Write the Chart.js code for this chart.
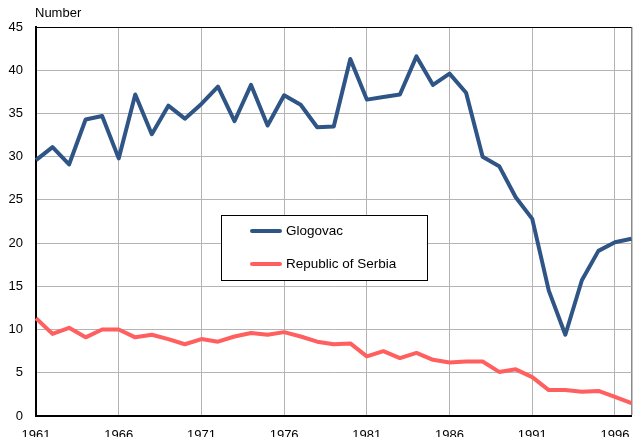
<!DOCTYPE html>
<html>
<head>
<meta charset="utf-8">
<script src="https://cdn.jsdelivr.net/npm/chart.js@4/dist/chart.umd.min.js"></script>
<style>
html,body{margin:0;padding:0;background:#fff;}
#wrap{width:643px;height:437px;position:relative;}
</style>
</head>
<body>
<div id="wrap"><canvas id="c" width="643" height="437"></canvas></div>
<script>
const years = [1961,1962,1963,1964,1965,1966,1967,1968,1969,1970,1971,1972,1973,1974,1975,1976,1977,1978,1979,1980,1981,1982,1983,1984,1985,1986,1987,1988,1989,1990,1991,1992,1993,1994,1995,1996,1997];
const glogovac = [29.6,31.1,29.1,34.3,34.7,29.8,37.2,32.6,35.9,34.4,36.1,38.1,34.1,38.3,33.6,37.1,36.0,33.4,33.5,41.3,36.6,36.9,37.2,41.6,38.3,39.6,37.4,30.0,28.9,25.3,22.8,14.5,9.4,15.7,19.1,20.1,20.5];
const serbia = [11.3,9.5,10.2,9.1,10.0,10.0,9.1,9.4,8.9,8.3,8.9,8.6,9.2,9.6,9.4,9.7,9.2,8.6,8.3,8.4,6.9,7.5,6.7,7.3,6.5,6.2,6.3,6.3,5.1,5.4,4.5,3.0,3.0,2.8,2.9,2.2,1.5];
const seriesNames = ["Glogovac","Republic of Serbia"];
const yAxisLabel = "Number";

const FONT = "'Liberation Sans', Arial, sans-serif";

const overlay = {
  id: 'overlay',
  afterDraw(chart) {
    const ctx = chart.ctx;
    ctx.save();
    ctx.font = "13px " + FONT;
    ctx.fillStyle = "#000";
    ctx.textBaseline = "middle";
    ctx.textAlign = "left";
    ctx.fillText(yAxisLabel, 35, 13);
    ctx.fillStyle = "#fff";
    ctx.fillRect(221.5, 215.5, 206, 65);
    ctx.strokeStyle = "#000";
    ctx.lineWidth = 1;
    ctx.strokeRect(221.5, 215.5, 206, 65);
    const ys = [231, 264];
    chart.data.datasets.forEach((ds, i) => {
      ctx.strokeStyle = ds.borderColor;
      ctx.lineWidth = 4;
      ctx.lineCap = "round";
      ctx.beginPath();
      ctx.moveTo(252, ys[i]);
      ctx.lineTo(280, ys[i]);
      ctx.stroke();
      ctx.fillStyle = "#000";
      ctx.font = "13.5px " + FONT;
      ctx.textBaseline = "middle";
      ctx.fillText(ds.label, 286, ys[i] + 0.5);
    });
    ctx.restore();
  }
};

new Chart(document.getElementById('c'), {
  type: 'line',
  data: {
    labels: years.map(String),
    datasets: [
      { label: seriesNames[0], data: glogovac, borderColor: '#2f5586', borderWidth: 4, pointRadius: 0, tension: 0, fill: false, borderJoinStyle: 'round' },
      { label: seriesNames[1], data: serbia, borderColor: '#ff5f5f', borderWidth: 4, pointRadius: 0, tension: 0, fill: false, borderJoinStyle: 'round' }
    ]
  },
  options: {
    responsive: false,
    animation: false,
    devicePixelRatio: 1,
    layout: { padding: { top: 27, right: 5, left: 0, bottom: 0 } },
    plugins: { legend: { display: false }, tooltip: { enabled: false }, title: { display: false } },
    scales: {
      x: {
        type: 'category',
        offset: false,
        afterFit(s) { s.height = 21; },
        grid: {
          drawTicks: false,
          lineWidth: ctx => (ctx.index === years.length - 1 ? 1.5 : 1),
          color: ctx => {
            if (ctx.index === years.length - 1) return '#8a8a8a';
            return ((ctx.index % 5) === 0) ? '#b4b4b4' : 'rgba(0,0,0,0)';
          }
        },
        border: { color: '#000', width: 2 },
        ticks: {
          autoSkip: false,
          maxRotation: 0,
          padding: 11.5,
          color: '#000',
          font: { family: FONT, size: 13 },
          callback: function(val, idx) { return (idx % 5 === 0) ? this.getLabelForValue(val) : ''; }
        }
      },
      y: {
        min: 0, max: 45,
        afterFit(s) { s.width = 36; },
        grid: {
          drawTicks: false,
          lineWidth: 1,
          color: ctx => (ctx.tick && ctx.tick.value === 45 ? '#000' : '#b4b4b4')
        },
        border: { color: '#000', width: 2 },
        ticks: {
          stepSize: 5,
          padding: 13,
          color: '#000',
          font: { family: FONT, size: 13 }
        }
      }
    }
  },
  plugins: [overlay]
});
</script>
</body>
</html>
